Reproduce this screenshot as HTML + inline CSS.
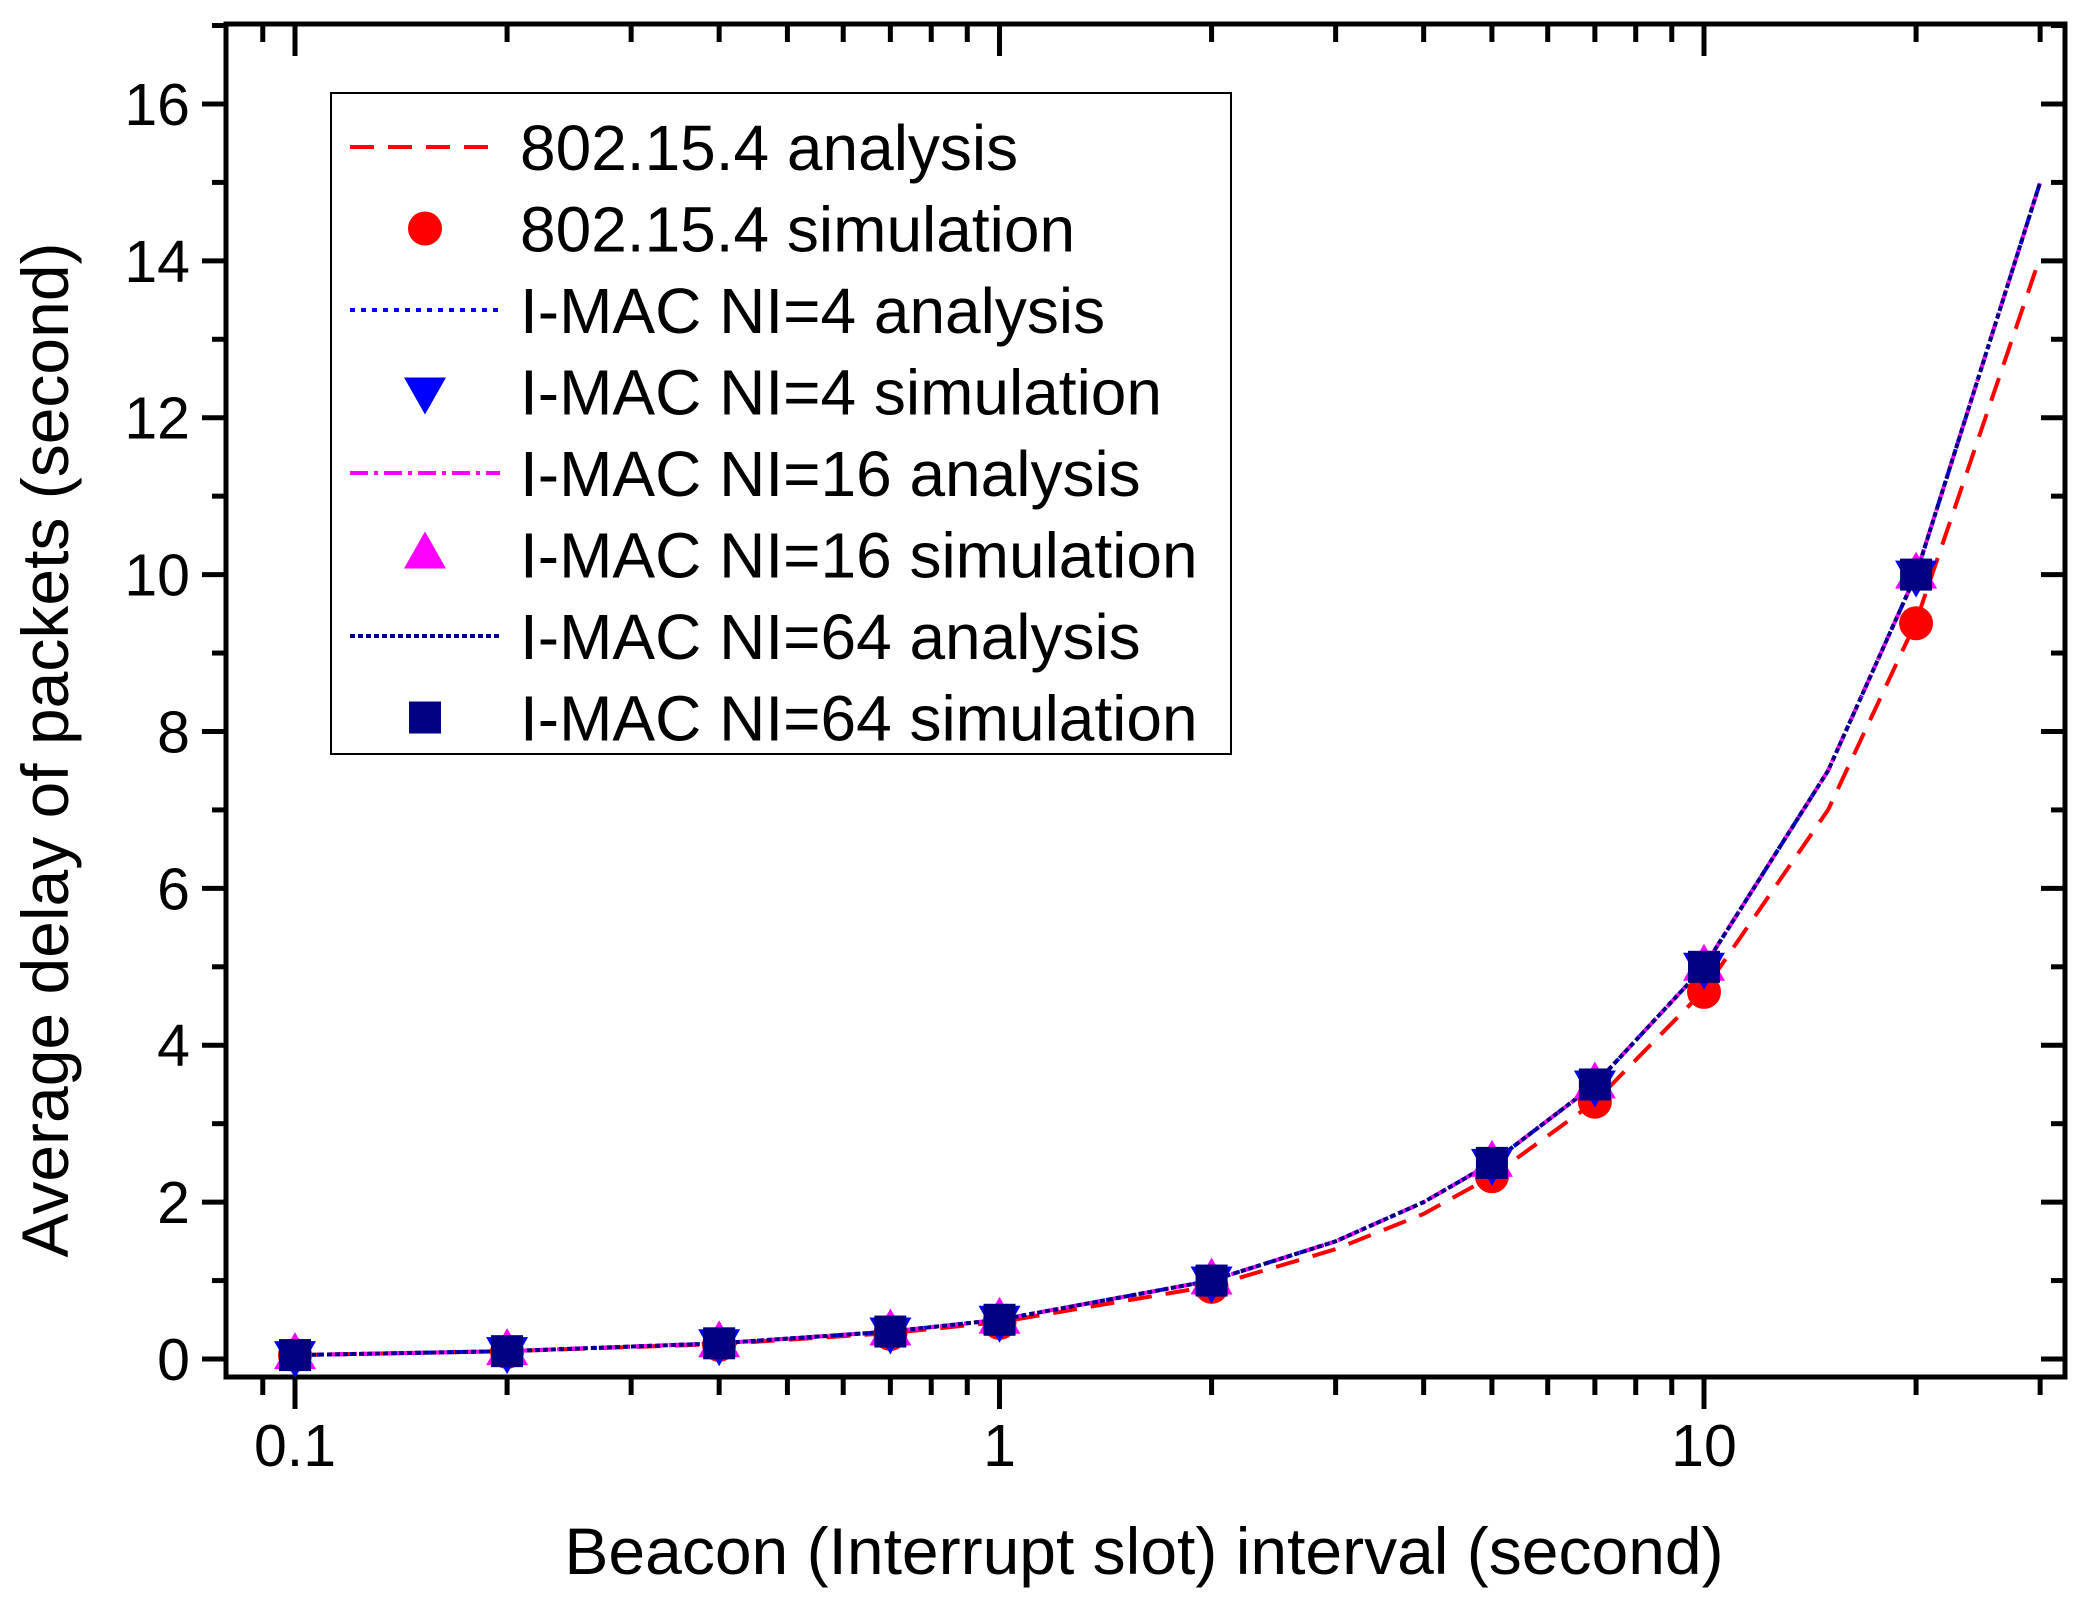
<!DOCTYPE html>
<html><head><meta charset="utf-8"><style>
html,body{margin:0;padding:0;background:#fff;}
svg{display:block;font-family:"Liberation Sans",sans-serif;}
</style></head><body>
<svg id="chart" width="2085" height="1611" viewBox="0 0 2085 1611" xmlns="http://www.w3.org/2000/svg">
<g id="axes"></g><g id="series"></g><g id="legend"></g>
</svg>
<script>
const anaX = [0.1,0.2,0.4,0.7,1,2,3,4,5,7,10,15,20,30];
const ieeeAna = [0.05,0.1,0.19,0.33,0.47,0.93,1.4,1.85,2.33,3.28,4.7,7.0,9.4,14.05];
const imacAna = [0.05,0.1,0.2,0.35,0.5,1.0,1.5,2.0,2.5,3.5,5.0,7.5,10.0,15.0];
const simX = [0.1,0.2,0.4,0.7,1,2,5,7,10,20];
const ieeeSim = [0.05,0.09,0.18,0.32,0.46,0.92,2.33,3.28,4.68,9.38];
const ni4Sim = [0.05,0.1,0.2,0.35,0.5,1.0,2.5,3.5,5.0,10.0];
const ni16Sim = [0.05,0.1,0.2,0.35,0.5,1.0,2.5,3.5,5.0,10.0];
const ni64Sim = [0.05,0.1,0.2,0.35,0.5,1.0,2.5,3.5,5.0,10.0];
const yTicks = [0,2,4,6,8,10,12,14,16];
const xTickLabels = ["0.1","1","10"];
const xTickVals = [0.1,1,10];

const NS="http://www.w3.org/2000/svg";
const L=226,R=2065,T=24,B=1377;
const X=v=>295+704.5*Math.log10(v/0.1);
const Y=v=>1359-78.44*v;
function mk(tag,attrs,parent){const e=document.createElementNS(NS,tag);for(const k in attrs)e.setAttribute(k,attrs[k]);parent.appendChild(e);return e;}
const axes=document.getElementById('axes'),ser=document.getElementById('series'),leg=document.getElementById('legend');

const frame=mk('rect',{x:L,y:T,width:R-L,height:B-T,fill:'none',stroke:'#000','stroke-width':5},axes);


for(let v=0;v<=17;v++){
  const y=Y(v),len=v%2===0?24:14;
  if(y<T)continue;
  mk('line',{x1:L-len,x2:L,y1:y,y2:y,stroke:'#000','stroke-width':5},axes);
  mk('line',{x1:R-len,x2:R,y1:y,y2:y,stroke:'#000','stroke-width':5},axes);
}
yTicks.forEach(v=>{
  const t=mk('text',{x:L-36,y:Y(v)+21,'font-size':59,'text-anchor':'end'},axes);
  t.textContent=v;
  
  
});
[0.09,0.2,0.3,0.4,0.5,0.6,0.7,0.8,0.9,2,3,4,5,6,7,8,9,20,30].forEach(v=>{
  const x=X(v);
  mk('line',{x1:x,x2:x,y1:B,y2:B+18,stroke:'#000','stroke-width':5},axes);
  mk('line',{x1:x,x2:x,y1:T,y2:T+18,stroke:'#000','stroke-width':5},axes);
});
xTickVals.forEach((v,i)=>{
  const x=X(v);
  mk('line',{x1:x,x2:x,y1:B,y2:B+32,stroke:'#000','stroke-width':5},axes);
  mk('line',{x1:x,x2:x,y1:T,y2:T+32,stroke:'#000','stroke-width':5},axes);
  const t=mk('text',{x:x,y:1466,'font-size':59,'text-anchor':'middle'},axes);
  t.textContent=xTickLabels[i];
  
  
});
const xt=mk('text',{x:1144,y:1574,'font-size':66,'text-anchor':'middle'},axes);
xt.textContent='Beacon (Interrupt slot) interval (second)';


const yt=mk('text',{x:0,y:0,'font-size':66,'text-anchor':'middle',transform:'translate(68,750) rotate(-90)'},axes);
yt.textContent='Average delay of packets (second)';



function line(xs,ys,color,dash,w,name){
  const p=mk('polyline',{points:xs.map((x,i)=>X(x)+','+Y(ys[i])).join(' '),fill:'none',stroke:color,'stroke-width':w,'stroke-dasharray':dash,'stroke-linejoin':'round'},ser);
  
  
}
line(anaX,ieeeAna,'#ff0000','24 14',4,'ieee-analysis-line');
line(anaX,imacAna,'#0000ff','5 6',4,'ni4-analysis-line');
line(anaX,imacAna,'#ff00ff','18 6 4 6',4,'ni16-analysis-line');
line(anaX,imacAna,'#000080','5 3',4,'ni64-analysis-line');

function marker(type,cx,cy,color,parent){
  let e;
  if(type==='circle')e=mk('circle',{cx:cx,cy:cy,r:17,fill:color},parent);
  else if(type==='down')e=mk('polygon',{points:`${cx-21},${cy-14} ${cx+21},${cy-14} ${cx},${cy+23}`,fill:color},parent);
  else if(type==='up')e=mk('polygon',{points:`${cx-21},${cy+14} ${cx+21},${cy+14} ${cx},${cy-23}`,fill:color},parent);
  else e=mk('rect',{x:cx-16,y:cy-16,width:32,height:32,fill:color},parent);
  return e;
}
function pts(ys,type,color,name){
  simX.forEach((x,i)=>{
    const m=marker(type,X(x),Y(ys[i]),color,ser);
    
    
  });
}
pts(ieeeSim,'circle','#ff0000','ieee-sim-point');
pts(ni4Sim,'down','#0000ff','ni4-sim-point');
pts(ni16Sim,'up','#ff00ff','ni16-sim-point');
pts(ni64Sim,'square','#000080','ni64-sim-point');

const lb=mk('rect',{x:331,y:93,width:900,height:661,fill:'#fff',stroke:'#000','stroke-width':2},leg);


const entries=[
 ['802.15.4 analysis','line','#ff0000','24 14'],
 ['802.15.4 simulation','circle','#ff0000'],
 ['I-MAC NI=4 analysis','line','#0000ff','5 6'],
 ['I-MAC NI=4 simulation','down','#0000ff'],
 ['I-MAC NI=16 analysis','line','#ff00ff','18 6 4 6'],
 ['I-MAC NI=16 simulation','up','#ff00ff'],
 ['I-MAC NI=64 analysis','line','#000080','5 3'],
 ['I-MAC NI=64 simulation','square','#000080']];
entries.forEach((en,i)=>{
  const cy=147+81.5*i;
  let m;
  if(en[1]==='line')m=mk('line',{x1:350,x2:500,y1:cy,y2:cy,stroke:en[2],'stroke-width':4,'stroke-dasharray':en[3]},leg);
  else m=marker(en[1],425,cy,en[2],leg);
  
  
  const t=mk('text',{x:520,y:cy+23,'font-size':64},leg);
  t.textContent=en[0];
  
  
});
</script>
</body></html>
